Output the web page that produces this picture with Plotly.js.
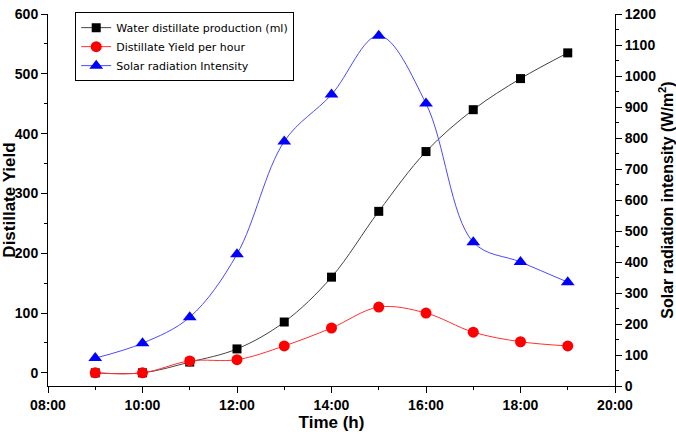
<!DOCTYPE html>
<html><head><meta charset="utf-8">
<script src="https://cdn.plot.ly/plotly-3.0.1.min.js"></script>
<style>html,body{margin:0;padding:0;background:#fff}#chart{width:676px;height:445px}
#chart .xtick text, #chart .ytick text, #chart .y2tick text{font-weight:bold !important}</style>
</head><body><div id="chart"></div>
<script>
const hours = [9, 10, 11, 12, 13, 14, 15, 16, 17, 18, 19];
const waterProduction = [0, 0, 18, 40, 85, 160, 270, 370, 440, 492, 535];
const yieldPerHour = [0, 0, 20, 22, 45, 75, 110, 100, 68, 52, 45];
const solarRadiation = [90, 138, 222, 425, 789, 940, 1130, 911, 464, 400, 335];
const xTickVals = [8, 10, 12, 14, 16, 18, 20];
const xTickText = ['08:00', '10:00', '12:00', '14:00', '16:00', '18:00', '20:00'];

const tickFont = {family: 'Liberation Sans, Arial, sans-serif', size: 14, color: '#000', weight: 700};
const legFont = {family: 'DejaVu Sans, sans-serif', size: 11, color: '#000'};

const traces = [
  {x: hours, y: waterProduction, name: 'Water distillate production (ml)', type: 'scatter', mode: 'lines+markers',
   line: {color: '#444', width: 1, shape: 'spline', smoothing: 1}, marker: {symbol: 'square', size: 9, color: '#000'}},
  {x: hours, y: yieldPerHour, name: 'Distillate Yield per hour', type: 'scatter', mode: 'lines+markers',
   line: {color: '#ff3030', width: 1, shape: 'spline', smoothing: 1}, marker: {symbol: 'circle', size: 11, color: '#ff0000'}},
  {x: hours, y: solarRadiation, name: 'Solar radiation Intensity', type: 'scatter', mode: 'lines+markers', yaxis: 'y2',
   line: {color: '#4a4aff', width: 1, shape: 'spline', smoothing: 1}, marker: {symbol: 'triangle-up', size: 12, color: '#0000ff'}}
];

const layout = {
  width: 676, height: 445,
  margin: {l: 48, r: 61, t: 12, b: 59},
  paper_bgcolor: '#fff', plot_bgcolor: '#fff',
  showlegend: true,
  legend: {x: 0.048, y: 1.005, xanchor: 'left', yanchor: 'top', bordercolor: '#000', borderwidth: 1,
           bgcolor: '#fff', font: legFont, tracegroupgap: 0, itemwidth: 30},
  xaxis: {range: [8, 20], tickvals: xTickVals, ticktext: xTickText, ticks: 'outside', ticklen: 6, tickwidth: 1,
          tickcolor: '#000', showline: true, linecolor: '#000', linewidth: 1, showgrid: false, zeroline: false,
          tickfont: tickFont, minor: {dtick: 1, tick0: 8, ticks: 'outside', ticklen: 3, tickcolor: '#000'},
          title: {text: 'Time (h)', font: {family: 'Liberation Sans, Arial, sans-serif', size: 17, color: '#000', weight: 'bold'}, standoff: 3}},
  yaxis: {range: [-22, 600], tickvals: [0, 100, 200, 300, 400, 500, 600], ticks: 'outside', ticklen: 6, tickwidth: 1,
          tickcolor: '#000', showline: true, linecolor: '#000', linewidth: 1, showgrid: false, zeroline: false,
          tickfont: tickFont, minor: {tickvals: [50, 150, 250, 350, 450, 550], ticks: 'outside', ticklen: 3, tickcolor: '#000'},
          title: {text: 'Distillate Yield', font: {family: 'Liberation Sans, Arial, sans-serif', size: 17, color: '#000', weight: 'bold'}, standoff: 5}},
  yaxis2: {overlaying: 'y', side: 'right', range: [0, 1200], dtick: 100, ticks: 'outside', ticklen: 6, tickwidth: 1,
          tickcolor: '#000', showline: true, linecolor: '#000', linewidth: 1, showgrid: false, zeroline: false,
          tickfont: tickFont, minor: {dtick: 50, ticks: 'outside', ticklen: 3, tickcolor: '#000'},
          title: {text: 'Solar radiation intensity (W/m<sup>2</sup>)', font: {family: 'Liberation Sans, Arial, sans-serif', size: 16, color: '#000', weight: 'bold'}, standoff: 5}}
};

Plotly.newPlot('chart', traces, layout, {displayModeBar: false, staticPlot: true});
</script></body></html>
